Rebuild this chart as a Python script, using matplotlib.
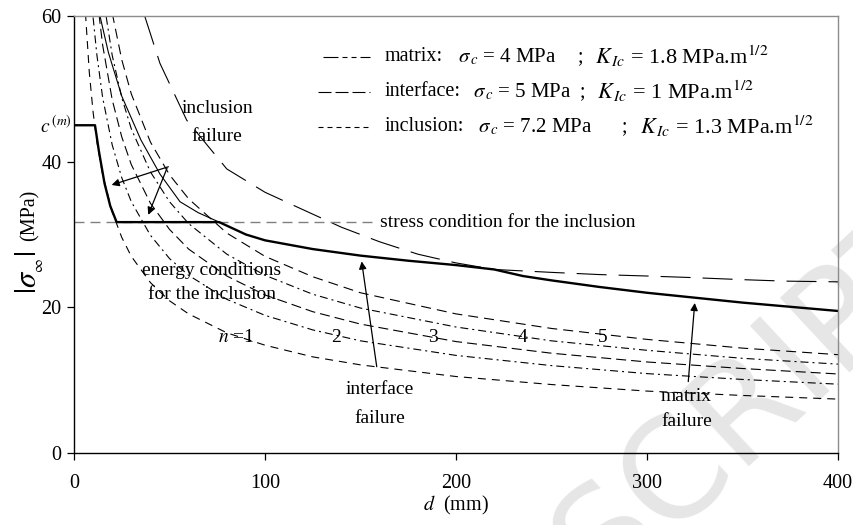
import matplotlib
matplotlib.use('Agg')
import matplotlib.pyplot as plt

plt.rcParams['font.family'] = ['Liberation Serif', 'DejaVu Serif']
plt.rcParams['mathtext.fontset'] = 'stix'
plt.rcParams['lines.scale_dashes'] = False

# ---------------- data ----------------
# inclusion energy conditions, n = 1..5
d_n1 = [6, 8, 10, 12, 15, 20, 25, 30, 40, 50, 60, 80, 100, 125, 150, 200, 250, 300, 350, 400]
s_n1 = [60.4, 52.3, 46.8, 42.7, 38.2, 33.1, 29.6, 27.0, 23.4, 20.9, 19.1, 16.5, 14.8, 13.2, 12.1, 10.5, 9.4, 8.5, 7.9, 7.4]
d_n2 = [10, 12, 15, 20, 25, 30, 40, 50, 60, 80, 100, 125, 150, 200, 250, 300, 350, 400]
s_n2 = [59.8, 54.6, 48.8, 42.3, 37.8, 34.5, 29.9, 26.7, 24.4, 21.1, 18.9, 16.9, 15.4, 13.4, 12.0, 10.9, 10.1, 9.45]
d_n3 = [12, 15, 20, 25, 30, 40, 50, 60, 80, 100, 125, 150, 200, 250, 300, 350, 400]
s_n3 = [62.6, 56.0, 48.5, 43.4, 39.6, 34.3, 30.7, 28.0, 24.3, 21.7, 19.4, 17.7, 15.3, 13.7, 12.5, 11.6, 10.85]
d_n4 = [15, 20, 25, 30, 40, 50, 60, 80, 100, 125, 150, 200, 250, 300, 350, 400]
s_n4 = [63.0, 54.6, 48.8, 44.5, 38.6, 34.5, 31.5, 27.3, 24.4, 21.8, 19.9, 17.3, 15.4, 14.1, 13.0, 12.2]
d_n5 = [20, 25, 30, 40, 50, 60, 80, 100, 125, 150, 200, 250, 300, 350, 400]
s_n5 = [60.4, 54.0, 49.3, 42.7, 38.2, 34.9, 30.2, 27.0, 24.2, 22.0, 19.1, 17.1, 15.6, 14.4, 13.5]
n_labels = ['$n$ =1', '2', '3', '4', '5']
n_label_d = [85, 137, 188, 235, 277]
n_label_s = [15.8, 15.8, 15.8, 15.8, 15.8]

# thin solid curve (upper left)
d_thin = [13.6, 18, 25, 35, 45, 55.5, 65, 76]
s_thin = [60.0, 55.0, 49.0, 43.0, 38.3, 34.5, 33.0, 31.7]

# interface curve (long dashes)
d_itf = [37, 45, 59, 80, 100, 116.6, 140, 160, 180, 200, 220, 250, 275, 300, 322, 350, 372, 400]
s_itf = [60.0, 53.5, 45.7, 39.0, 35.8, 33.8, 31.0, 29.0, 27.3, 26.1, 25.2, 24.8, 24.5, 24.3, 24.1, 23.8, 23.6, 23.5]

# stress condition for the inclusion
stress_incl = 31.7
stress_end = 158

# failure envelope (thick line)
d_env = [0, 11, 13, 16, 19, 22.3, 76, 90, 100, 125, 150, 175, 200, 220, 235, 250, 275, 300, 350, 400]
s_env = [45, 45, 41.5, 37.0, 33.9, 31.7, 31.7, 30.0, 29.2, 28.0, 27.1, 26.4, 25.8, 25.2, 24.3, 23.7, 22.8, 22.0, 20.65, 19.5]

xticks = [0, 100, 200, 300, 400]
yticks = [0, 20, 40, 60]

# legend texts
leg_names = ['matrix:', 'interface:', 'inclusion:']
leg_sigma = ['$\\sigma_{\\,c}$ = 4 MPa', '$\\sigma_{\\,c}$ = 5 MPa', '$\\sigma_{\\,c}$ = 7.2 MPa']
leg_kic = ['$K_{\\,Ic}$ = 1.8 MPa.m$^{1/2}$', '$K_{\\,Ic}$ = 1 MPa.m$^{1/2}$',
           '$K_{\\,Ic}$ = 1.3 MPa.m$^{1/2}$']

# ---------------- figure ----------------
fig = plt.figure(figsize=(8.54, 5.25), dpi=100)
fig.text(0.885, 0.24, 'SCRIPT', fontsize=100, color='#e6e6e6', rotation=43,
         ha='center', va='center', family='DejaVu Sans', zorder=-5)
ax = fig.add_axes([74/854, 1-453/525, (838-74)/854, (453-16)/525])
ax.patch.set_alpha(0)

PX = 0.72
ax.plot(d_n1, s_n1, color='k', lw=0.8, linestyle=(0, (8*PX, 6*PX)))
ax.plot(d_n2, s_n2, color='k', lw=0.8, linestyle=(0, (8*PX, 4*PX, 2*PX, 4*PX)))
ax.plot(d_n3, s_n3, color='k', lw=0.8, linestyle=(0, (10*PX, 5*PX)))
ax.plot(d_n4, s_n4, color='k', lw=0.8, linestyle=(0, (8*PX, 4*PX, 2*PX, 4*PX)))
ax.plot(d_n5, s_n5, color='k', lw=0.8, linestyle=(0, (10*PX, 6*PX)))
for t, x, y in zip(n_labels, n_label_d, n_label_s):
    ax.text(x, y, t, fontsize=14, ha='center', va='center')

ax.plot(d_thin, s_thin, color='k', lw=0.8)
ax.plot(d_itf, s_itf, color='k', lw=0.8, linestyle=(0, (30*PX, 12*PX)))
ax.plot([0, stress_end], [stress_incl, stress_incl], color='#808080', lw=1.0,
        linestyle=(0, (10*PX, 6*PX)))
ax.text(160, stress_incl, 'stress condition for the inclusion', fontsize=14,
        ha='left', va='center')
ax.plot(d_env, s_env, color='k', lw=1.7, solid_joinstyle='round')

# annotations
arr = dict(arrowstyle='-|>', lw=0.9, color='k', mutation_scale=11, shrinkA=0, shrinkB=0)
ax.annotate('', xy=(19.7, 36.8), xytext=(49.4, 39.3), arrowprops=arr)
ax.annotate('', xy=(38.9, 32.7), xytext=(48.7, 39.1), arrowprops=arr)
ax.text(75, 47.3, 'inclusion', fontsize=14, ha='center', va='center')
ax.text(75, 43.4, 'failure', fontsize=14, ha='center', va='center')
ax.text(72, 25.1, 'energy conditions', fontsize=14, ha='center', va='center')
ax.text(72, 21.7, 'for the inclusion', fontsize=14, ha='center', va='center')
ax.annotate('', xy=(150.6, 26.3), xytext=(158.5, 11.85), arrowprops=arr)
ax.text(160, 8.65, 'interface', fontsize=14, ha='center', va='center')
ax.text(160, 4.7, 'failure', fontsize=14, ha='center', va='center')
ax.annotate('', xy=(325, 20.6), xytext=(321.6, 9.8), arrowprops=arr)
ax.text(320.7, 7.7, 'matrix', fontsize=14, ha='center', va='center')
ax.text(320.7, 4.3, 'failure', fontsize=14, ha='center', va='center')

# legend (drawn by hand)
def px2d(x):
    return (x - 74) / 1.91
def py2s(y):
    return (453 - y) / 7.28

leg_y = [56.7, 91.7, 126.7]
leg_styles = [(0, (15*PX, 4*PX, 5*PX, 4*PX, 5*PX, 4*PX)),
              (0, (13*PX, 4*PX)),
              (0, (5*PX, 4*PX))]
leg_x0 = [323, 318, 318]
sigma_x = [458, 473, 478]
semi_x = [578, 580, 622]
right_x = [595, 597, 640]
for i in range(3):
    yy = py2s(leg_y[i])
    ax.plot([px2d(leg_x0[i]), px2d(370)], [yy, yy], color='k', lw=0.8, linestyle=leg_styles[i])
    ax.text(px2d(385), yy, leg_names[i], fontsize=14.5, ha='left', va='center')
    ax.text(px2d(sigma_x[i]), yy, leg_sigma[i], fontsize=15, ha='left', va='center')
    ax.text(px2d(semi_x[i]), yy, ';', fontsize=14.5, ha='left', va='center')
    ax.text(px2d(right_x[i]), yy, leg_kic[i], fontsize=16, ha='left', va='center')

# c^(m) label
ax.text(-1.0, 45, '$c^{\\,(m)}$', fontsize=14, ha='right', va='center', clip_on=False)

ax.set_xlim(0, 400)
ax.set_ylim(0, 60)
ax.set_xticks(xticks)
ax.set_yticks(yticks)
ax.tick_params(labelsize=14.5, direction='out', length=5, width=0.9, pad=10)
ax.tick_params(axis='y', pad=4)
for s in ['top', 'right']:
    ax.spines[s].set_color('#8c8c8c')
    ax.spines[s].set_linewidth(1.0)
for s in ['left', 'bottom']:
    ax.spines[s].set_linewidth(1.0)
ax.set_xlabel('$d$  (mm)', fontsize=14.5, labelpad=1)

fig.text(30/854, 1-272/525, '$|\\sigma_{_\\infty}|$', fontsize=22, rotation=90,
         ha='center', va='center')
fig.text(30/854, 1-215/525, '(MPa)', fontsize=14.5, rotation=90, ha='center', va='center')

fig.savefig('out.png', dpi=100)
